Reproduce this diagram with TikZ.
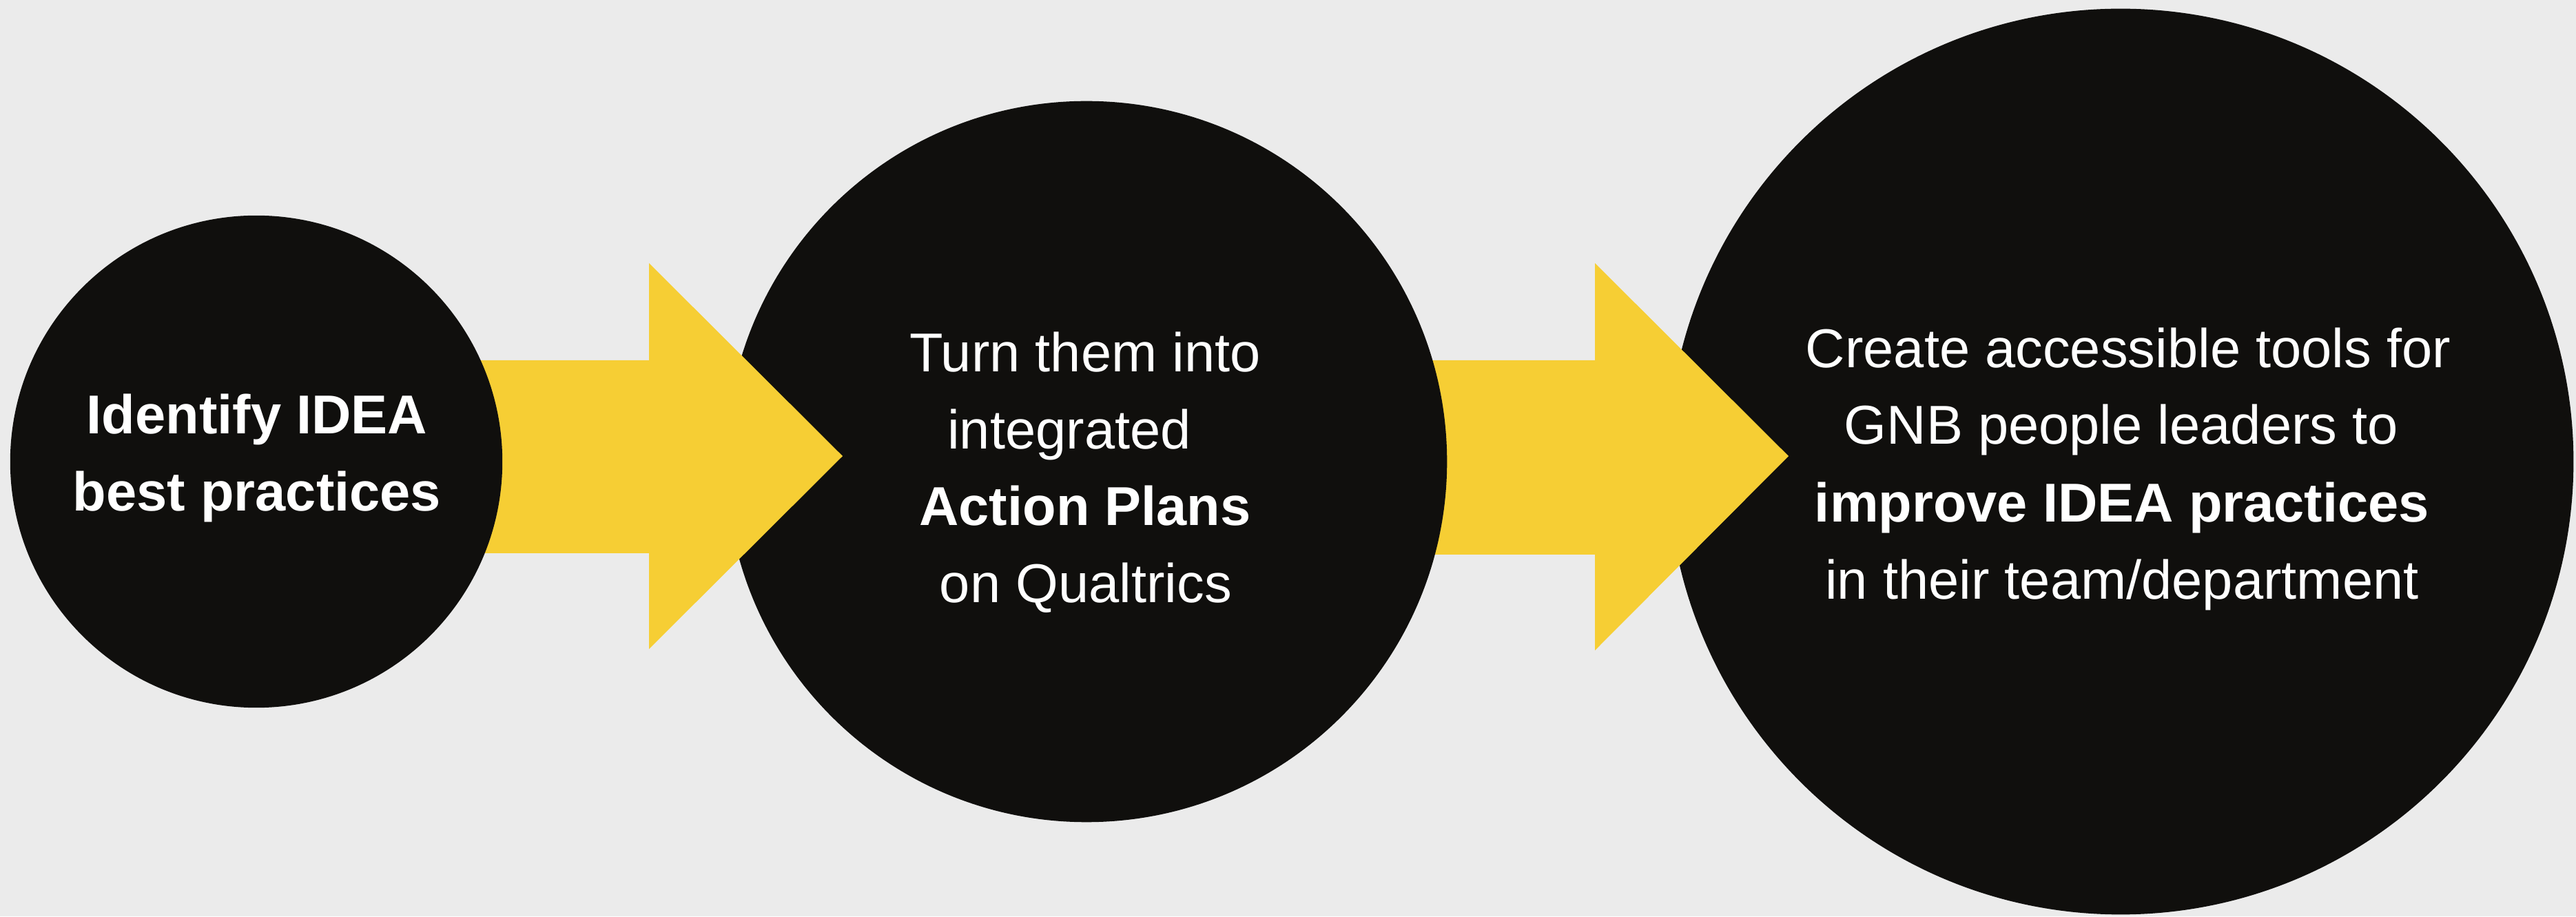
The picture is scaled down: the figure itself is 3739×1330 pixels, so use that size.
\documentclass[tikz,border=0pt]{standalone}
\usepackage{fontspec}
\setmainfont{Liberation Sans}
\definecolor{bg}{HTML}{EBEBEB}
\definecolor{ink}{HTML}{100F0D}
\definecolor{sun}{HTML}{F6CE34}
\begin{document}
\begin{tikzpicture}[x=0.01cm,y=0.01cm,
  disc/.style={circle, fill=ink, inner sep=0pt, outer sep=0pt},
  flow/.style={fill=sun},
  txt/.style={anchor=base, inner sep=0pt, text=white,
    font=\fontsize{22.6pt}{27pt}\selectfont},
  txtb/.style={txt, font=\fontsize{22.6pt}{27pt}\selectfont\bfseries}]
% canvas
\fill[bg] (0,0) rectangle (3739,1330);
\useasboundingbox (0,0) rectangle (3739,1330);

% stage 3 (largest disc, at the back)
\node[disc, minimum size=13.14cm] (c3) at (3078,660) {};
% arrow from stage 2 to stage 3
\fill[flow] (2000,807) -- (2315,807) -- (2315,948) -- (2596,668)
  -- (2315,386) -- (2315,525) -- (2000,525) -- cycle;
% stage 2
\node[disc, minimum size=10.46cm] (c2) at (1577,660) {};
% arrow from stage 1 to stage 2
\fill[flow] (640,807) -- (942,807) -- (942,948) -- (1223,668)
  -- (942,388) -- (942,527) -- (640,527) -- cycle;
% stage 1
\node[disc, minimum size=7.14cm] (c1) at (372,660) {};

% texts of stage 1
\node[txtb] (t11) at (373,700) {Identify IDEA};
\node[txtb] (t12) at (373,588) {best practices};

% texts of stage 2
\node[txt]  (t21) at (1575,790) {Turn them into};
\node[txt]  (t22) at (1552,678) {integrated};
\node[txtb] (t23) at (1575,567) {Action Plans};
\node[txt]  (t24) at (1576,455) {on Qualtrics};

% texts of stage 3
\node[txt]  (t31) at (3089,796) {Create accessible tools for};
\node[txt]  (t32) at (3079,685) {GNB people leaders to};
\node[txtb] (t33) at (3080,572) {improve IDEA practices};
\node[txt]  (t34) at (3080,460) {in their team/department};
\end{tikzpicture}
\end{document}
